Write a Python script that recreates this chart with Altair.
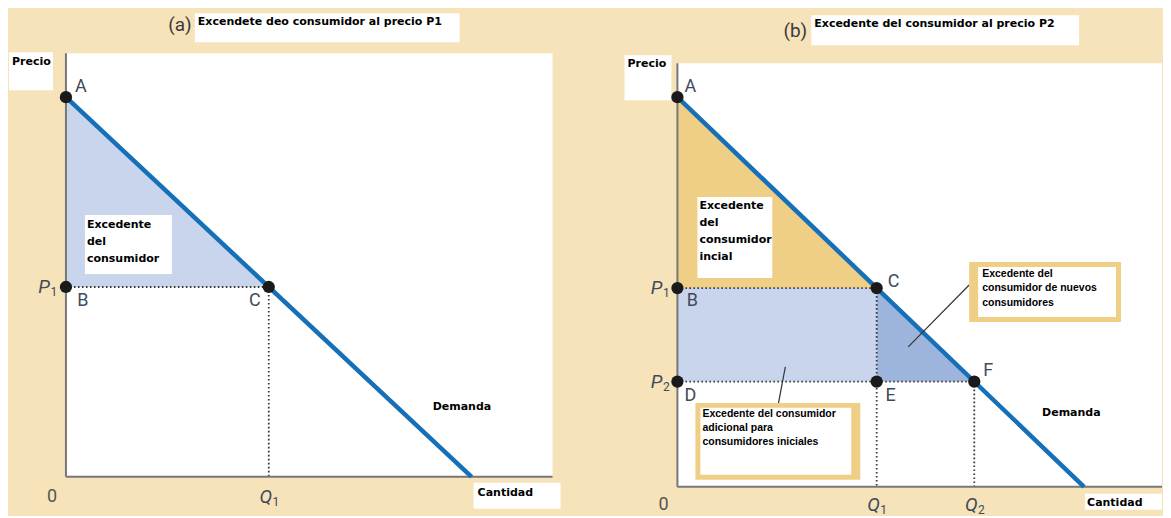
import altair as alt
import pandas as pd

# ---------------- data ----------------
demand_q = [0, 10]          # demand line end points (quantity)
demand_p = [10, 0]          # demand line end points (price)

# panel (a)
a_names = ["A", "B", "C"]
a_p1, a_q1 = 5.0, 5.0

# panel (b)
b_names = ["A", "B", "C", "D", "E", "F"]
b_p1, b_q1 = 5.1, 4.9
b_p2, b_q2 = 2.7, 7.3

title_a = "Excendete deo consumidor al precio P1"
title_b = "Excedente del consumidor al precio P2"
box_a_lines = ["Excedente", "del", "consumidor"]
box_b1_lines = ["Excedente", "del", "consumidor", "incial"]
box_b2_lines = ["Excedente del", "consumidor de nuevos", "consumidores"]
box_b3_lines = ["Excedente del consumidor", "adicional para", "consumidores iniciales"]

# ---------------- styles ----------------
BEIGE = "#F6E3B9"
ORANGE = "#EFCE85"
LIGHT_BLUE = "#C9D5EC"
MID_BLUE = "#9DB4DC"
LINE_BLUE = "#1670B8"
AXIS = "#777777"
INK = "#414A5A"
DOT = "#3A3A3A"
NARROW = "Liberation Sans Narrow, Roboto, sans-serif"
BOLD = "DejaVu Sans"
BOLD2 = "Liberation Sans"

A_W, A_H = 487, 424
B_W, B_H = 482, 434
xa = alt.Scale(domain=[0, A_W / 40.6], nice=False)
ya = alt.Scale(domain=[0, A_H / 38.0], nice=False)
xb = alt.Scale(domain=[0, B_W / 40.7], nice=False)
yb = alt.Scale(domain=[0, B_H / 39.0], nice=False)


def px_rects(rows):
    df = pd.DataFrame(rows, columns=["x", "y", "x2", "y2", "c"])
    return alt.Chart(df).mark_rect().encode(
        x=alt.X("x:Q", scale=None, axis=None), x2="x2:Q",
        y=alt.Y("y:Q", scale=None, axis=None), y2="y2:Q",
        color=alt.Color("c:N", scale=None))


def px_rules(rows, color, width):
    df = pd.DataFrame(rows, columns=["x", "y", "x2", "y2"])
    return alt.Chart(df).mark_rule(color=color, strokeWidth=width).encode(
        x=alt.X("x:Q", scale=None, axis=None), x2="x2:Q",
        y=alt.Y("y:Q", scale=None, axis=None), y2="y2:Q")


def px_text(rows, **style):
    df = pd.DataFrame(rows, columns=["x", "y", "t"])
    return alt.Chart(df).mark_text(**style).encode(
        x=alt.X("x:Q", scale=None, axis=None),
        y=alt.Y("y:Q", scale=None, axis=None),
        text="t:N")


def lines_rows(x, y0, step, lines):
    return [(x, y0 + i * step, s) for i, s in enumerate(lines)]


def area(sx, sy, qs, ps, base, color):
    df = pd.DataFrame({"q": qs, "p": ps, "b": base})
    return alt.Chart(df).mark_area(color=color, opacity=1).encode(
        x=alt.X("q:Q", scale=sx, axis=None),
        y=alt.Y("p:Q", scale=sy, axis=None), y2="b:Q")


def dotted(sx, sy, segs):
    df = pd.DataFrame(segs, columns=["q", "p", "q2", "p2"])
    return alt.Chart(df).mark_rule(color=DOT, strokeWidth=1.8, strokeDash=[1.6, 2.4]).encode(
        x=alt.X("q:Q", scale=sx, axis=None), x2="q2:Q",
        y=alt.Y("p:Q", scale=sy, axis=None), y2="p2:Q")


def demand(sx, sy):
    df = pd.DataFrame({"q": demand_q, "p": demand_p})
    return alt.Chart(df).mark_line(color=LINE_BLUE, strokeWidth=4.5, strokeCap="butt").encode(
        x=alt.X("q:Q", scale=sx, axis=None), y=alt.Y("p:Q", scale=sy, axis=None))


def points(sx, sy, names, qs, ps):
    df = pd.DataFrame({"n": names, "q": qs, "p": ps})
    return alt.Chart(df).mark_circle(size=150, color="#1A1A1A", opacity=1).encode(
        x=alt.X("q:Q", scale=sx, axis=None), y=alt.Y("p:Q", scale=sy, axis=None))


def letter(sx, sy, q, p, t, dx, dy):
    df = pd.DataFrame({"q": [q], "p": [p], "t": [t]})
    return alt.Chart(df).mark_text(font=NARROW, fontSize=18, color=INK, dx=dx, dy=dy).encode(
        x=alt.X("q:Q", scale=sx, axis=None), y=alt.Y("p:Q", scale=sy, axis=None), text="t:N")


def price_label(sy, p, main, sub, xpx):
    df = pd.DataFrame({"x": [xpx], "x2": [xpx + 10], "p": [p], "t": [main], "s": [sub]})
    m = alt.Chart(df).mark_text(font=NARROW, fontSize=19, fontStyle="italic", color=INK).encode(
        x=alt.X("x:Q", scale=None, axis=None), y=alt.Y("p:Q", scale=sy, axis=None), text="t:N")
    s = alt.Chart(df).mark_text(font=NARROW, fontSize=12, color=INK, dy=5).encode(
        x=alt.X("x2:Q", scale=None, axis=None), y=alt.Y("p:Q", scale=sy, axis=None), text="s:N")
    return [m, s]


def qty_label(sx, q, main, sub, ypx):
    df = pd.DataFrame({"q": [q], "y": [ypx], "y2": [ypx + 5], "t": [main], "s": [sub]})
    m = alt.Chart(df).mark_text(font=NARROW, fontSize=19, fontStyle="italic", color=INK, dx=-3).encode(
        x=alt.X("q:Q", scale=sx, axis=None), y=alt.Y("y:Q", scale=None, axis=None), text="t:N")
    s = alt.Chart(df).mark_text(font=NARROW, fontSize=12, color=INK, dx=7).encode(
        x=alt.X("q:Q", scale=sx, axis=None), y=alt.Y("y2:Q", scale=None, axis=None), text="s:N")
    return [m, s]


bold_top = dict(font=BOLD, fontSize=11, fontWeight="bold", color="black", align="left", baseline="top")
bold2_top = dict(font=BOLD2, fontSize=10.5, fontWeight="bold", color="black", align="left", baseline="top")
big_mid = dict(font=NARROW, fontSize=19, color="#3B3B3B", align="center", baseline="middle")
zero_style = dict(font=NARROW, fontSize=18, color="#555555", align="center", baseline="middle")

# ---------------- panel (a) ----------------
pa_layers = [
    px_rects([(0, 0, A_W, A_H, "white")]),
    area(xa, ya, [0, a_q1], [demand_p[0], a_p1], [a_p1, a_p1], LIGHT_BLUE),
    dotted(xa, ya, [(0, a_p1, a_q1, a_p1), (a_q1, a_p1, a_q1, 0)]),
    px_rules([(0, 0, 0, A_H), (0, A_H, A_W, A_H)], AXIS, 2),
    demand(xa, ya),
    px_rects([
        (-57, -1, -13, 37, "white"),        # Precio
        (129, -40, 394, -11, "white"),      # title box
        (19, 162, 106, 221, "white"),       # excedente box
        (408, 430, 495, 456, "white"),      # Cantidad
    ]),
    points(xa, ya, a_names, [0, 0, a_q1], [demand_p[0], a_p1, a_p1]),
    letter(xa, ya, 0, demand_p[0], "A", 15, -10),
    letter(xa, ya, 0, a_p1, "B", 17, 14),
    letter(xa, ya, a_q1, a_p1, "C", -14, 14),
    *price_label(ya, a_p1, "P", "1", -22),
    *qty_label(xa, a_q1, "Q", "1", 444),
    px_text([(114, -28, "(a)")], **big_mid),
    px_text([(-14, 444, "0")], **zero_style),
    px_text([(132, -37, title_a)], **bold_top),
    px_text([(-54, 3, "Precio")], **bold_top),
    px_text(lines_rows(21, 166, 17, box_a_lines), **bold_top),
    px_text([(367, 348, "Demanda")], **bold_top),
    px_text([(412, 434, "Cantidad")], **bold_top),
]
pa = alt.layer(*pa_layers).properties(width=A_W, height=A_H)

# ---------------- panel (b) ----------------
pb_layers = [
    px_rects([(0, 10, 485, B_H, "white")]),
    area(xb, yb, [0, b_q1], [demand_p[0], b_p1], [b_p1, b_p1], ORANGE),
    area(xb, yb, [0, b_q1], [b_p1, b_p1], [b_p2, b_p2], LIGHT_BLUE),
    area(xb, yb, [b_q1, b_q2], [b_p1, b_p2], [b_p2, b_p2], MID_BLUE),
    dotted(xb, yb, [(0, b_p1, b_q1, b_p1), (0, b_p2, b_q2, b_p2),
                    (b_q1, b_p1, b_q1, 0), (b_q2, b_p2, b_q2, 0)]),
    px_rules([(0, 10, 0, B_H), (0, B_H, 485, B_H)], AXIS, 2),
    demand(xb, yb),
    px_rules([(292, 232, 231, 294), (108, 314, 101, 351)], "#333333", 1.2),
    px_rects([
        (-53, 2, -6, 47, "white"),          # Precio
        (134, -38, 402, -8, "white"),       # title box
        (20, 144, 95, 225, "white"),        # incial box
        (292, 209, 444, 269, ORANGE),       # nuevos frame
        (301, 214, 439, 264, "white"),
        (18, 350, 183, 427, ORANGE),        # adicional frame
        (23, 355, 174, 422, "white"),
        (408, 441, 485, 457, "white"),      # Cantidad
    ]),
    points(xb, yb, b_names, [0, 0, b_q1, 0, b_q1, b_q2],
           [demand_p[0], b_p1, b_p1, b_p2, b_p2, b_p2]),
    letter(xb, yb, 0, demand_p[0], "A", 13, -10),
    letter(xb, yb, 0, b_p1, "B", 15, 13),
    letter(xb, yb, b_q1, b_p1, "C", 17, -6),
    letter(xb, yb, 0, b_p2, "D", 13, 14),
    letter(xb, yb, b_q1, b_p2, "E", 14, 14),
    letter(xb, yb, b_q2, b_p2, "F", 14, -11),
    *price_label(yb, b_p1, "P", "1", -21),
    *price_label(yb, b_p2, "P", "2", -21),
    *qty_label(xb, b_q1, "Q", "1", 452),
    *qty_label(xb, b_q2, "Q", "2", 452),
    px_text([(118, -22, "(b)")], **big_mid),
    px_text([(-14, 452, "0")], **zero_style),
    px_text([(137, -35, title_b)], **bold_top),
    px_text([(-50, 5, "Precio")], **bold_top),
    px_text(lines_rows(22, 147, 17, box_b1_lines), **bold_top),
    px_text(lines_rows(305, 216, 14.5, box_b2_lines), **bold2_top),
    px_text(lines_rows(25, 356, 14.3, box_b3_lines), **bold2_top),
    px_text([(365, 354, "Demanda")], **bold_top),
    px_text([(410, 444, "Cantidad")], **bold_top),
]
pb = alt.layer(*pb_layers).properties(width=B_W, height=B_H)

chart = alt.hconcat(pa, pb, spacing=125, bounds="flush").properties(
    background=BEIGE,
    padding={"left": 1, "top": 5, "right": 0, "bottom": 0},
).configure_view(strokeWidth=0, fill=None)

chart.save("out.html", embed_options={"renderer": "svg", "actions": False})
